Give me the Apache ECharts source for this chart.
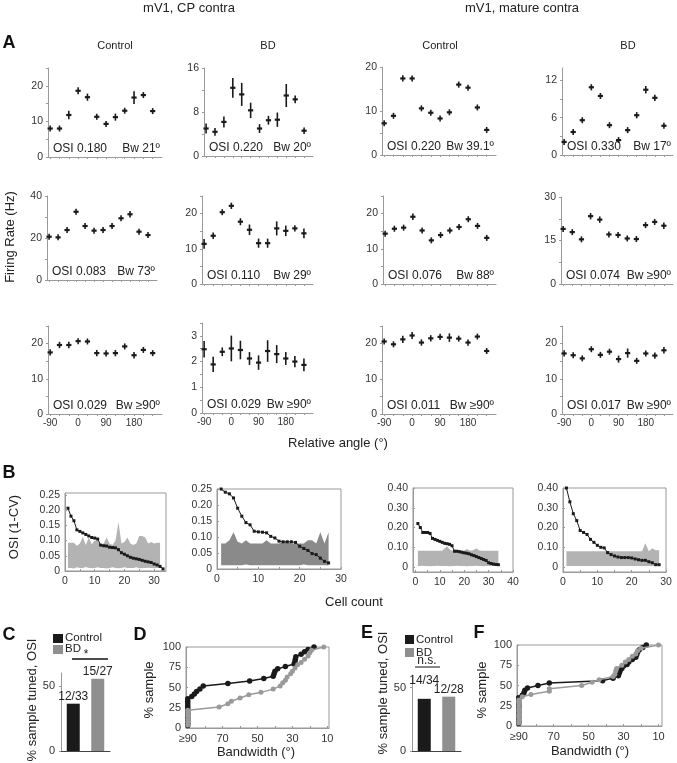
<!DOCTYPE html>
<html><head><meta charset="utf-8">
<script src="https://cdn.jsdelivr.net/npm/echarts@6/dist/echarts.min.js"></script>
<style>html,body{margin:0;padding:0;background:#fff}#c{width:677px;height:763px}</style>
</head><body><div id="c"></div>
<script>
// ================= DATA =================
const angles = [-90,-60,-30,0,30,60,90,120,150,180,210,240];
const angleTickLabels = [-90,0,90,180];

// Panel A: firing rate (Hz) means and errors
const cpCtrlR1 = [8.0,8.0,11.8,18.6,16.8,11.3,9.3,11.2,13.0,16.7,17.4,12.9];
const cpCtrlR1Err = [0.7,0.5,1.2,1.0,1.0,0.7,0.7,1.0,0.8,1.8,0.6,0.8];
const cpBdR1 = [5.0,4.4,6.2,12.4,11.2,8.3,5.0,6.5,6.6,11.0,10.3,4.6];
const cpBdR1Err = [0.9,0.7,1.0,1.8,2.1,1.4,0.8,0.8,1.3,2.1,0.7,0.6];
const matCtrlR1 = [7.2,8.9,17.4,17.4,10.6,9.6,8.3,9.7,16.0,15.3,10.8,5.7];
const matCtrlR1Err = [0.4,0.3,0.7,0.6,0.5,0.5,0.4,0.4,0.7,0.5,0.5,0.5];
const matBdR1 = [2.1,3.7,5.6,10.9,9.5,4.8,2.4,4.0,6.4,10.5,9.2,4.7];
const matBdR1Err = [0.4,0.4,0.4,0.5,0.4,0.4,0.2,0.4,0.5,0.6,0.5,0.4];

const cpCtrlR2 = [20.6,20.3,23.8,32.5,25.7,23.5,23.8,25.7,29.4,31.3,23.0,21.4];
const cpCtrlR2Err = [0.6,0.6,1.2,0.8,1.0,1.0,0.8,1.0,0.8,1.5,0.8,0.6];
const cpBdR2 = [11.4,13.7,20.4,22.2,17.7,15.4,11.6,11.6,15.8,15.1,15.8,14.4];
const cpBdR2Err = [1.4,0.9,0.7,0.9,1.0,1.5,1.3,1.3,2.0,1.5,0.9,1.4];
const matCtrlR2 = [14.3,15.7,16.0,19.1,15.2,12.4,13.9,15.2,16.2,18.4,16.5,13.1];
const matCtrlR2Err = [0.7,0.5,0.7,0.9,0.5,0.6,0.7,0.7,0.6,0.6,0.7,0.8];
const matBdR2 = [19.0,17.9,15.4,23.4,22.2,17.1,16.9,15.7,15.5,20.3,21.4,20.1];
const matBdR2Err = [0.8,0.9,0.8,1.1,1.1,0.7,1.0,1.0,0.7,0.9,1.0,1.1];

const cpCtrlR3 = [17.5,19.6,19.6,20.7,20.6,17.3,17.2,17.3,19.2,16.7,18.2,17.3];
const cpCtrlR3Err = [0.9,0.9,0.9,0.8,0.8,0.9,0.9,0.9,0.8,0.9,0.8,0.8];
const cpBdR3 = [2.48,1.89,2.38,2.51,2.45,2.12,1.96,2.41,2.29,2.12,2.0,1.87];
const cpBdR3Err = [0.32,0.30,0.17,0.50,0.36,0.25,0.28,0.42,0.35,0.25,0.22,0.25];
const matCtrlR3 = [20.6,19.8,21.2,22.3,20.3,21.5,21.9,21.7,21.4,20.3,22.0,17.9];
const matCtrlR3Err = [0.6,0.8,1.0,1.0,0.9,0.9,0.9,1.2,0.7,0.9,0.7,0.6];
const matBdR3 = [17.2,16.7,15.8,18.4,16.8,17.7,15.6,17.3,15.1,17.2,16.6,18.1];
const matBdR3Err = [0.9,0.8,0.7,0.8,0.8,0.8,1.0,1.3,0.6,0.7,0.9,0.9];

const osiTexts = ['OSI 0.180','OSI 0.220','OSI 0.220','OSI 0.330',
                  'OSI 0.083','OSI 0.110','OSI 0.076','OSI 0.074',
                  'OSI 0.029','OSI 0.029','OSI 0.011','OSI 0.017'];
const bwTexts = ['Bw 21º','Bw 20º','Bw 39.1º','Bw 17º',
                 'Bw 73º','Bw 29º','Bw 88º','Bw ≥90º',
                 'Bw ≥90º','Bw ≥90º','Bw ≥90º','Bw ≥90º'];
const aYMax = [25,16,20,14, 40,25,25,30, 25,3.5,25,25];
const aYLabels = [[0,10,20],[0,8,16],[0,10,20],[0,6,12],
                  [0,20,40],[0,10,20],[0,10,20],[0,15,30],
                  [0,10,20],[0,1,2,3],[0,10,20],[0,10,20]];
const aYTicks = [[0,5,10,15,20,25],[0,4,8,12,16],[0,5,10,15,20],[0,3,6,9,12],
                 [0,10,20,30,40],[0,5,10,15,20,25],[0,5,10,15,20,25],[0,7.5,15,22.5,30],
                 [0,5,10,15,20,25],[0,0.5,1,1.5,2,2.5,3,3.5],[0,5,10,15,20,25],[0,5,10,15,20,25]];

// Panel B: sorted OSI (1-CV) per cell and shuffled band
const osiCpCtrl = [0.206,0.18,0.165,0.135,0.13,0.125,0.12,0.115,0.11,0.108,0.105,0.085,0.083,0.082,0.078,0.077,0.076,0.07,0.06,0.055,0.05,0.045,0.042,0.04,0.038,0.035,0.032,0.03,0.028,0.023,0.02,0.015,0.007];
const bandCpCtrlHi = [0.093,0.093,0.093,0.083,0.09,0.112,0.085,0.11,0.088,0.1,0.1,0.085,0.09,0.11,0.09,0.085,0.1,0.16,0.09,0.095,0.11,0.09,0.085,0.09,0.115,0.115,0.11,0.09,0.095,0.09,0.093,0.093];
const bandCpCtrlLo = [0.01,0.01,0.008,0.012,0.01,0.01,0.013,0.01,0.009,0.01,0.012,0.01,0.01,0.008,0.01,0.012,0.01,0.009,0.01,0.012,0.01,0.01,0.01,0.012,0.009,0.01,0.01,0.011,0.01,0.009,0.01,0.01];
const osiCpBd = [0.25,0.24,0.235,0.222,0.19,0.165,0.145,0.138,0.118,0.116,0.115,0.113,0.102,0.097,0.087,0.085,0.085,0.085,0.083,0.071,0.064,0.058,0.048,0.045,0.034,0.024,0.019];
const bandCpBdHi = [0.08,0.08,0.09,0.115,0.085,0.08,0.09,0.08,0.08,0.08,0.08,0.09,0.08,0.08,0.08,0.085,0.085,0.08,0.08,0.08,0.08,0.09,0.09,0.08,0.115,0.08,0.115];
const bandCpBdLo = [0.012,0.012,0.012,0.012,0.012,0.012,0.014,0.012,0.012,0.012,0.012,0.012,0.012,0.012,0.012,0.012,0.012,0.012,0.012,0.012,0.014,0.012,0.012,0.012,0.012,0.012,0.012];
const osiMatCtrl = [0.22,0.20,0.175,0.175,0.175,0.17,0.145,0.14,0.135,0.13,0.125,0.12,0.118,0.115,0.108,0.08,0.08,0.078,0.075,0.072,0.07,0.067,0.062,0.058,0.053,0.048,0.043,0.038,0.033,0.022,0.018,0.015,0.013,0.012];
const bandMatCtrlHi = [0.083,0.083,0.083,0.083,0.083,0.083,0.083,0.083,0.083,0.083,0.083,0.095,0.105,0.09,0.083,0.083,0.083,0.083,0.083,0.083,0.092,0.085,0.083,0.088,0.095,0.085,0.083,0.083,0.083,0.083,0.083,0.083,0.083,0.083];
const bandMatCtrlLo = [0.005,0.005,0.006,0.005,0.005,0.004,0.005,0.005,0.006,0.005,0.005,0.005,0.005,0.004,0.005,0.005,0.006,0.005,0.005,0.005,0.004,0.005,0.005,0.005,0.006,0.005,0.005,0.004,0.005,0.005,0.005,0.005,0.005,0.005];
const osiMatBd = [0.40,0.33,0.27,0.235,0.185,0.175,0.165,0.14,0.125,0.11,0.10,0.097,0.073,0.063,0.056,0.051,0.048,0.048,0.048,0.046,0.041,0.037,0.034,0.034,0.027,0.022,0.012,0.012];
const bandMatBdHi = [0.08,0.08,0.08,0.08,0.08,0.08,0.08,0.08,0.08,0.08,0.08,0.08,0.08,0.08,0.08,0.08,0.08,0.08,0.08,0.08,0.08,0.08,0.08,0.12,0.08,0.095,0.085,0.085];
const bandMatBdLo = [0.005,0.005,0.005,0.005,0.005,0.005,0.005,0.005,0.005,0.005,0.005,0.005,0.005,0.005,0.005,0.005,0.005,0.005,0.005,0.005,0.005,0.005,0.005,0.005,0.005,0.005,0.005,0.005];

// Panels C / E: % sample tuned
const tunedCats = ['Control','BD'];
const tunedCpPct = [36.4,55.6];
const tunedCpLabels = ['12/33','15/27'];
const tunedMatPct = [41.2,42.9];
const tunedMatLabels = ['14/34','12/28'];

// Panels D / F: cumulative % sample vs bandwidth
const cumCpCtrlBw = [90,90,90,90,90,90,90,90,90,90,90,90,87.7,86.2,84.9,83,81.1,67,54.5,46.4,41,40.5,40,38.4,34,29,28.5,28.3,28,25,23,21,17.6];
const cumCpCtrlPct = [3,6,9,12,15,18,21,24,27,30,33,36,39,42,45,48,52,55,58,61,64,67,70,73,76,79,82,85,88,91,94,97,100];
const cumCpBdBw = [90,90,90,90,90,90,72,67,65,60,55,48,41,37,35.5,34,33,31,30,28.5,27,25,23,21,20,19,12];
const cumCpBdPct = [3.7,7.4,11,15,18.5,22,26,30,33,37,41,44,48,52,56,59,63,67,70,74,78,81,85,89,93,96,100];
const cumMatCtrlBw = [90,90,90,90,90,90,90,90,90,90,90,90,88,87,86.5,85,79,72.5,42,36,33,32.5,32,31,30,28,27,25,23,22.5,22,21,19,17];
const cumMatCtrlPct = [3,6,9,12,15,18,21,24,26,29,32,35,38,41,44,47,50,53,56,59,62,65,68,71,74,76,79,82,85,88,91,94,97,100];
const cumMatBdBw = [90,90,90,90,90,90,90,90,90,88,83,72.5,72.5,54,48,44,36,35,34.5,34,31,29,27,25,23,22,20,10];
const cumMatBdPct = [3.6,7,11,14,18,21,25,29,32,36,39,43,46,50,54,57,61,64,68,71,75,79,82,86,89,93,96,100];
const bwTickLabels = [90,70,50,30,10];
const pctTickLabels = [0,25,50,75,100];

// ================= LAYOUT / STYLE =================
const FONT = '"Liberation Sans", Arial, Helvetica, sans-serif';
const AX = '#999';
const TXT = '#333';
const DARK = '#1a1a1a';
const GREY = '#8f8f8f';

const aMeans = [cpCtrlR1,cpBdR1,matCtrlR1,matBdR1,cpCtrlR2,cpBdR2,matCtrlR2,matBdR2,cpCtrlR3,cpBdR3,matCtrlR3,matBdR3];
const aErrs = [cpCtrlR1Err,cpBdR1Err,matCtrlR1Err,matBdR1Err,cpCtrlR2Err,cpBdR2Err,matCtrlR2Err,matBdR2Err,cpCtrlR3Err,cpBdR3Err,matCtrlR3Err,matBdR3Err];
const aBoxes = [
  [48,68,114,89],[204,68,109,88],[382,67,114,88],[562,68,111,87],
  [47,196,110,84],[202,196,111,88],[383,196,113,88],[561,197,112,87],
  [48,326,114,88],[202,323,111,90],[382,326,114,88],[562,326,111,88]
];

const grid = [], xAxis = [], yAxis = [], series = [], gfx = [];

function addText(x, y, text, size, o) {
  o = o || {};
  const el = {type:'text', x:x, y:y, silent:true, z:100,
    style:{text:text, fill:o.fill || '#222', font:(o.bold?'bold ':'') + size + 'px ' + FONT,
      textAlign:o.align || 'center', textVerticalAlign:o.valign || 'middle'}};
  if (o.rot) el.rotation = o.rot;
  gfx.push(el);
}
function addLine(x1, y1, x2, y2, w, c) {
  gfx.push({type:'line', silent:true, shape:{x1:x1,y1:y1,x2:x2,y2:y2}, style:{stroke:c||'#111', lineWidth:w||1}});
}
function addRect(x, y, w, h, c) {
  gfx.push({type:'rect', silent:true, shape:{x:x,y:y,width:w,height:h}, style:{fill:c}});
}

function errRender(params, api) {
  const x = api.value(0), m = api.value(1), e = api.value(2);
  const pm = api.coord([x, m]);
  const ph = api.coord([x, m + e]);
  const pl = api.coord([x, m - e]);
  const top = Math.min(ph[1], pm[1] - 3), bot = Math.max(pl[1], pm[1] + 3);
  return {type:'group', children:[
    {type:'line', shape:{x1:pm[0], y1:top, x2:pm[0], y2:bot}, style:{stroke:DARK, lineWidth:1.6}},
    {type:'line', shape:{x1:pm[0]-2.6, y1:pm[1], x2:pm[0]+2.6, y2:pm[1]}, style:{stroke:DARK, lineWidth:2.2}}
  ]};
}

// whole band drawn as one polygon through the axis scales
function makeBandRender(p) {
  return function (params, api) {
    if (params.dataIndex !== 0) return null;
    const upper = p.hi.map((v, k) => api.coord([k + 1, v]));
    const lower = p.lo.map((v, k) => api.coord([k + 1, v])).reverse();
    return {type:'polygon', shape:{points:upper.concat(lower)}, style:{fill:p.band}};
  };
}

// ---- Panel A ----
aBoxes.forEach((b, i) => {
  const gi = grid.length;
  grid.push({left:b[0], top:b[1], width:b[2], height:b[3]});
  const lastRow = i >= 8;
  xAxis.push({type:'value', gridIndex:gi, min:-97, max:270,
    axisLine:{show:true, onZero:false, lineStyle:{color:AX, width:1}},
    axisTick:{show:true, customValues:angles, length:2, lineStyle:{color:AX}},
    axisLabel:{show:lastRow, customValues:angleTickLabels, fontSize:10, color:TXT, margin:4, fontFamily:FONT},
    splitLine:{show:false}});
  yAxis.push({type:'value', gridIndex:gi, min:0, max:aYMax[i],
    axisLine:{show:true, onZero:false, lineStyle:{color:AX, width:1}},
    axisTick:{show:true, customValues:aYTicks[i], length:2, lineStyle:{color:AX}},
    axisLabel:{customValues:aYLabels[i], fontSize:10.5, color:TXT, margin:5, fontFamily:FONT},
    splitLine:{show:false}});
  series.push({type:'custom', xAxisIndex:gi, yAxisIndex:gi, renderItem:errRender,
    data:angles.map((a,k) => [a, aMeans[i][k], aErrs[i][k]]), encode:{x:0, y:1}, z:3, silent:true});
  addText(b[0]+5, b[1]+b[3]-8, osiTexts[i], 12, {align:'left'});
  addText(b[0]+b[2]-2, b[1]+b[3]-8, bwTexts[i], 12, {align:'right'});
});

// ---- Panel B ----
const bPanels = [
  {box:[65,493,101,78], x:[0,34], y:[0,0.256], yl:[0,0.05,0.1,0.15,0.2,0.25], xl:[0,10,20,30], osi:osiCpCtrl, hi:bandCpCtrlHi, lo:bandCpCtrlLo, band:'#b3b3b3'},
  {box:[217,489,124,80], x:[0,30], y:[0,0.25], yl:[0,0.05,0.1,0.15,0.2,0.25], xl:[0,10,20,30], osi:osiCpBd, hi:bandCpBdHi, lo:bandCpBdLo, band:'#8a8a8a'},
  {box:[413,488,100,84], x:[-1,40], y:[-0.025,0.40], yl:[0,0.1,0.2,0.3,0.4], xl:[0,10,20,30,40], osi:osiMatCtrl, hi:bandMatCtrlHi, lo:bandMatCtrlLo, band:'#b3b3b3'},
  {box:[563,488,103,84], x:[0,30], y:[-0.025,0.40], yl:[0,0.1,0.2,0.3,0.4], xl:[0,10,20,30], osi:osiMatBd, hi:bandMatBdHi, lo:bandMatBdLo, band:'#b3b3b3'}
];
bPanels.forEach((p, i) => {
  const gi = grid.length;
  grid.push({left:p.box[0], top:p.box[1], width:p.box[2], height:p.box[3], show:true, borderColor:AX, borderWidth:1, backgroundColor:'transparent'});
  const xt = []; for (let v = 0; v <= p.x[1]; v += 5) xt.push(v);
  xAxis.push({type:'value', gridIndex:gi, min:p.x[0], max:p.x[1],
    axisLine:{show:true, onZero:false, lineStyle:{color:AX}},
    axisTick:{show:true, inside:true, customValues:xt, length:2, lineStyle:{color:AX}},
    axisLabel:{customValues:p.xl, fontSize:10.5, color:TXT, margin:5, fontFamily:FONT},
    splitLine:{show:false}});
  yAxis.push({type:'value', gridIndex:gi, min:p.y[0], max:p.y[1],
    axisLine:{show:true, onZero:false, lineStyle:{color:AX}},
    axisTick:{show:true, inside:true, customValues:p.yl, length:2, lineStyle:{color:AX}},
    axisLabel:{customValues:p.yl, fontSize:10.5, color:TXT, margin:5, fontFamily:FONT,
      formatter:v => v === 0 ? '0' : v.toFixed(2)},
    splitLine:{show:false}});
  series.push({type:'custom', xAxisIndex:gi, yAxisIndex:gi, renderItem:makeBandRender(p),
    data:p.hi.map((v,k) => [k+1, p.lo[k], v]), encode:{x:0, y:[1,2]}, z:1, silent:true});
  series.push({type:'line', xAxisIndex:gi, yAxisIndex:gi, symbol:'rect', symbolSize:3, silent:true,
    itemStyle:{color:DARK}, lineStyle:{color:DARK, width:1},
    data:p.osi.map((v,k) => [k+1, v]), z:3});
});

// ---- Panels C / E (bars) ----
const barPanels = [
  {box:[61,673,49,78], vals:tunedCpPct, labs:tunedCpLabels, dist:[1,1]},
  {box:[412,675,49,76], vals:tunedMatPct, labs:tunedMatLabels, dist:[12,1]}
];
barPanels.forEach(p => {
  const gi = grid.length;
  grid.push({left:p.box[0], top:p.box[1], width:p.box[2], height:p.box[3]});
  xAxis.push({type:'category', gridIndex:gi, data:tunedCats,
    axisLine:{show:true, lineStyle:{color:'#444'}}, axisTick:{show:false}, axisLabel:{show:false}});
  yAxis.push({type:'value', gridIndex:gi, min:0, max:60,
    axisLine:{show:true, lineStyle:{color:AX}},
    axisTick:{show:true, customValues:[0,50], length:2, lineStyle:{color:AX}},
    axisLabel:{customValues:[0,50], fontSize:11, color:TXT, margin:6, fontFamily:FONT},
    splitLine:{show:false}});
  series.push({type:'bar', xAxisIndex:gi, yAxisIndex:gi, barWidth:13, silent:true,
    data:p.vals.map((v,k) => ({value:v, itemStyle:{color:k===0?DARK:GREY},
      label:{show:true, position:'top', distance:p.dist[k], formatter:p.labs[k], fontSize:12, color:'#222', fontFamily:FONT}}))});
});

// ---- Panels D / F (cumulative) ----
const cumPanels = [
  {box:[186,647,143,81], x:[9,91], ctrl:[cumCpCtrlBw,cumCpCtrlPct], bd:[cumCpBdBw,cumCpBdPct]},
  {box:[517,645,145,81], x:[8,91], ctrl:[cumMatCtrlBw,cumMatCtrlPct], bd:[cumMatBdBw,cumMatBdPct]}
];
cumPanels.forEach(p => {
  const gi = grid.length;
  grid.push({left:p.box[0], top:p.box[1], width:p.box[2], height:p.box[3], show:true, borderColor:AX, borderWidth:1, backgroundColor:'transparent'});
  xAxis.push({type:'value', gridIndex:gi, min:p.x[0], max:p.x[1], inverse:true,
    axisLine:{show:true, onZero:false, lineStyle:{color:AX}},
    axisTick:{show:true, inside:true, customValues:[90,80,70,60,50,40,30,20,10], length:2, lineStyle:{color:AX}},
    axisLabel:{customValues:bwTickLabels, fontSize:11, color:TXT, margin:5, fontFamily:FONT,
      formatter:v => v === 90 ? '≥90' : String(v)},
    splitLine:{show:false}});
  yAxis.push({type:'value', gridIndex:gi, min:0, max:100,
    axisLine:{show:true, onZero:false, lineStyle:{color:AX}},
    axisTick:{show:true, inside:true, customValues:pctTickLabels, length:2, lineStyle:{color:AX}},
    axisLabel:{customValues:pctTickLabels, fontSize:11, color:TXT, margin:5, fontFamily:FONT},
    splitLine:{show:false}});
  series.push({type:'line', xAxisIndex:gi, yAxisIndex:gi, symbol:'circle', symbolSize:5.5, silent:true,
    itemStyle:{color:DARK}, lineStyle:{color:DARK, width:1.5},
    data:p.ctrl[0].map((v,k) => [v, p.ctrl[1][k]]), z:3});
  series.push({type:'line', xAxisIndex:gi, yAxisIndex:gi, symbol:'circle', symbolSize:5, silent:true,
    itemStyle:{color:'#9a9a9a'}, lineStyle:{color:'#9a9a9a', width:1.5},
    data:p.bd[0].map((v,k) => [v, p.bd[1][k]]), z:4});
});

// ---- Texts ----
addText(189, 8, 'mV1, CP contra', 13);
addText(522, 8, 'mV1, mature contra', 13);
addText(115, 46, 'Control', 11);
addText(268, 46, 'BD', 11);
addText(440, 46, 'Control', 11);
addText(628, 46, 'BD', 11);
addText(9, 43, 'A', 18, {bold:true, fill:'#111'});
addText(9, 473, 'B', 18, {bold:true, fill:'#111'});
addText(9, 635, 'C', 18, {bold:true, fill:'#111'});
addText(140, 635, 'D', 18, {bold:true, fill:'#111'});
addText(367, 633, 'E', 18, {bold:true, fill:'#111'});
addText(479, 633, 'F', 18, {bold:true, fill:'#111'});
addText(10, 237, 'Firing Rate (Hz)', 13, {rot:Math.PI/2});
addText(338, 443, 'Relative angle (°)', 13);
addText(14, 527, 'OSI (1-CV)', 13, {rot:Math.PI/2});
addText(354, 602, 'Cell count', 13);
addText(32, 700, '% sample tuned, OSI', 13, {rot:Math.PI/2});
addText(383, 693, '% sample tuned, OSI', 13, {rot:Math.PI/2});
addText(149, 690, '% sample', 13, {rot:Math.PI/2});
addText(482, 690, '% sample', 13, {rot:Math.PI/2});
addText(256, 752, 'Bandwidth (°)', 13);
addText(590, 751, 'Bandwidth (°)', 13);
// legends and significance marks
addRect(53, 634, 10, 9, DARK); addText(65, 638, 'Control', 11.5, {align:'left'});
addRect(53, 645, 10, 9, GREY); addText(65, 649, 'BD', 11.5, {align:'left'});
addLine(72, 659, 108, 659, 1.5, '#111'); addText(86, 655, '*', 12);
addRect(405, 635, 9, 9, DARK); addText(416, 640, 'Control', 11.5, {align:'left'});
addRect(405, 648, 9, 9, GREY); addText(416, 653, 'BD', 11.5, {align:'left'});
addText(427, 661, 'n.s.', 12); addLine(415, 667, 440, 667, 1, '#111');

const chart = echarts.init(document.getElementById('c'));
chart.setOption({
  animation:false,
  backgroundColor:'#fff',
  textStyle:{fontFamily:FONT},
  grid:grid, xAxis:xAxis, yAxis:yAxis, series:series,
  graphic:{elements:gfx}
});
</script>
</body></html>
